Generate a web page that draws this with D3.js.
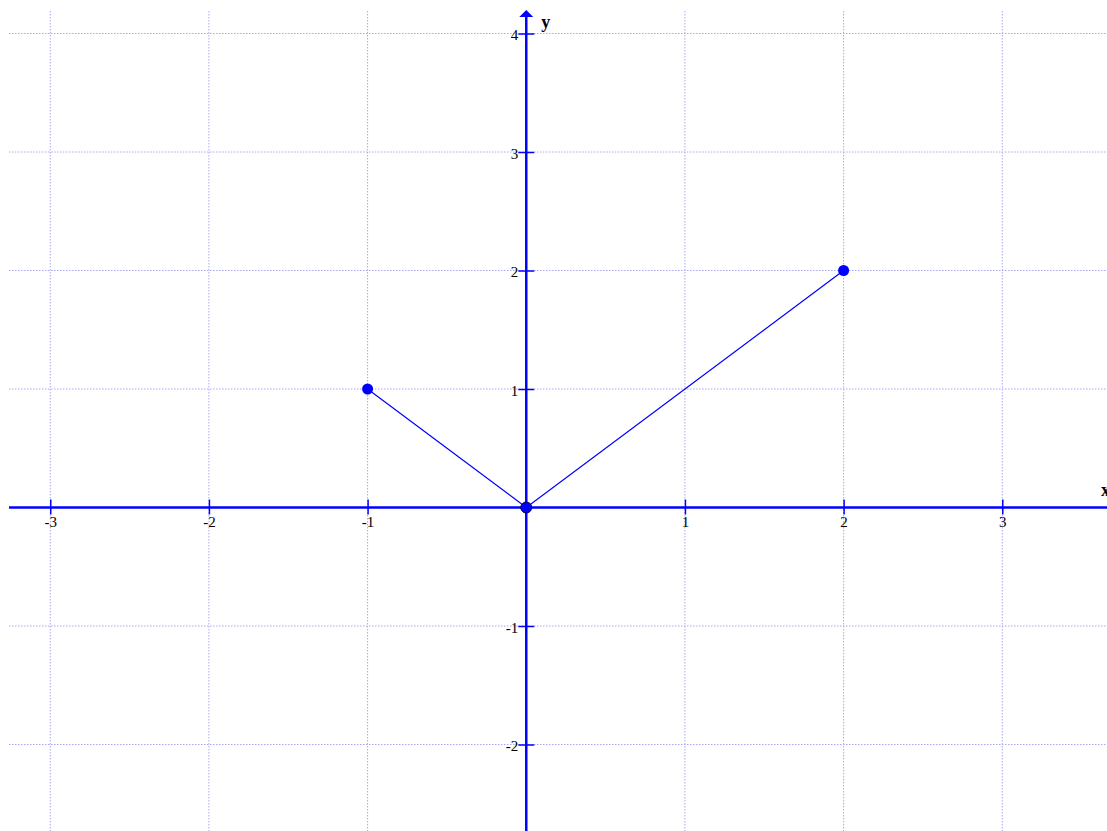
<!DOCTYPE html>
<html>
<head>
<meta charset="utf-8">
<script src="https://cdn.jsdelivr.net/npm/d3@7"></script>
<style>
  body { margin: 0; background: #fff; }
  .axis-label { font-family: "Liberation Serif", serif; font-size: 18px; font-weight: bold; }
</style>
</head>
<body>
<div id="chart"></div>
<script>
// data
var xTicks = [-3, -2, -1, 1, 2, 3];
var yTicks = [-2, -1, 1, 2, 3, 4];
var px = [-1, 0, 2];
var py = [1, 0, 2];

const width = 1107, height = 831;
const plot = {left: 9, right: 1107, top: 11, bottom: 831};

const svg = d3.select("#chart")
    .append("svg")
    .attr("width", width)
    .attr("height", height);

// scales
const xScale = d3.scaleLinear()
    .domain([-3.26, 3.66])
    .range([plot.left, plot.right]);

const yScale = d3.scaleLinear()
    .domain([-2.73, 4.19])
    .range([plot.bottom, plot.top]);

// dotted grid
svg.append("g")
    .selectAll("line")
    .data(xTicks)
    .join("line")
    .attr("x1", d => xScale(d)).attr("x2", d => xScale(d))
    .attr("y1", plot.top).attr("y2", plot.bottom)
    .attr("stroke", "#a8a8f0")
    .attr("stroke-dasharray", "1.5,1.5");

svg.append("g")
    .selectAll("line")
    .data(yTicks)
    .join("line")
    .attr("y1", d => yScale(d)).attr("y2", d => yScale(d))
    .attr("x1", plot.left).attr("x2", plot.right)
    .attr("stroke", "#a8a8f0")
    .attr("stroke-dasharray", "1.5,1.5");

const blue = "#0000ff";
const fmt = d => String(d);

// axes
const xAxis = d3.axisBottom(xScale).tickValues(xTicks).tickFormat(fmt).tickSize(7).tickSizeOuter(0).tickPadding(2);
const yAxis = d3.axisLeft(yScale).tickValues(yTicks).tickFormat(fmt).tickSize(8).tickSizeOuter(0).tickPadding(0);

const xAxisGroup = svg.append("g")
    .attr("class", "x-axis")
    .attr("transform", `translate(0, ${yScale(0)})`)
    .call(xAxis);
xAxisGroup.select(".domain").remove();
xAxisGroup.selectAll(".tick line").attr("y1", -8).attr("stroke", blue).attr("stroke-width", 1.5);
xAxisGroup.selectAll(".tick text")
    .style("font-family", "'Liberation Serif', serif")
    .style("font-size", "15px")
    .attr("fill", "#000");

const yAxisGroup = svg.append("g")
    .attr("class", "y-axis")
    .attr("transform", `translate(${xScale(0)}, 0)`)
    .call(yAxis);
yAxisGroup.select(".domain").remove();
yAxisGroup.selectAll(".tick line").attr("x1", 8).attr("stroke", blue).attr("stroke-width", 1.5);
yAxisGroup.selectAll(".tick text")
    .style("font-family", "'Liberation Serif', serif")
    .style("font-size", "15px")
    .attr("fill", "#000")
    .attr("dy", "0.4em");

// axis lines
svg.append("line")
    .attr("x1", plot.left).attr("x2", plot.right)
    .attr("y1", yScale(0)).attr("y2", yScale(0))
    .attr("stroke", blue).attr("stroke-width", 2.5);

svg.append("line")
    .attr("x1", xScale(0)).attr("x2", xScale(0))
    .attr("y1", 16).attr("y2", plot.bottom)
    .attr("stroke", blue).attr("stroke-width", 2.5);

// arrow on top of y axis
svg.append("path")
    .attr("d", `M${xScale(0)},10 L${xScale(0) - 7},17 L${xScale(0) + 7},17 Z`)
    .attr("fill", blue);

svg.append("text")
    .attr("class", "axis-label")
    .attr("x", xScale(0) + 15)
    .attr("y", 28)
    .text("y");

svg.append("text")
    .attr("class", "axis-label")
    .attr("x", 1101)
    .attr("y", 496)
    .text("x");

// the line
const pts = px.map((d, i) => [d, py[i]]);
svg.append("path")
    .datum(pts)
    .attr("fill", "none")
    .attr("stroke", blue)
    .attr("stroke-width", 1.2)
    .attr("d", d3.line().x(d => xScale(d[0])).y(d => yScale(d[1])));

svg.selectAll("circle")
    .data(pts)
    .join("circle")
    .attr("cx", d => xScale(d[0]))
    .attr("cy", d => yScale(d[1]))
    .attr("r", 5.5)
    .attr("fill", blue)
    .attr("stroke", d => (d[0] === 0 && d[1] === 0) ? "#000044" : "none")
    .attr("stroke-width", 1);
</script>
</body>
</html>
